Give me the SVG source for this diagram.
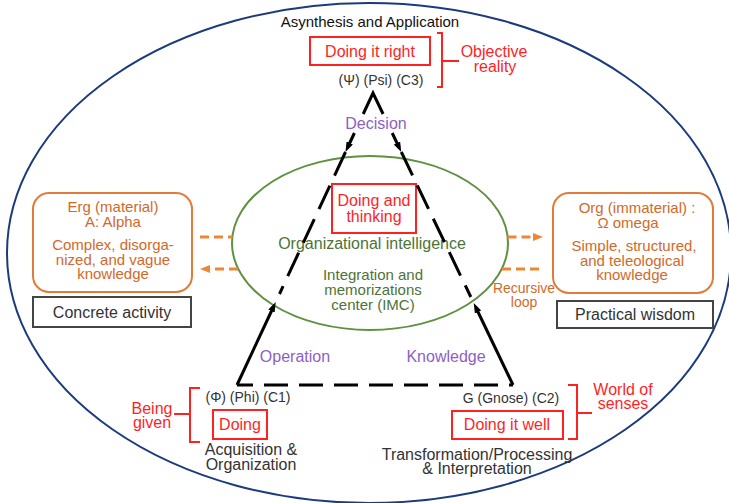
<svg xmlns="http://www.w3.org/2000/svg" width="729" height="503" viewBox="0 0 729 503">
<style>
text{font-family:"Liberation Sans",Arial,Helvetica,sans-serif;text-anchor:middle;font-size:16px}
.k{fill:#111}
.g{fill:#333}
.r{fill:#ff1f1f}
.o{fill:#d2692a}
.gr{fill:#4d7337}
.p{fill:#8d5fc4}
.s14{font-size:14px}
.s15{font-size:15px}
.rbox{fill:#fff;stroke:#ff2020;stroke-width:2}
.brk{fill:none;stroke:#ff2020;stroke-width:2}
.obox{fill:#fff;stroke:#e07b39;stroke-width:2}
.gbox{fill:#fff;stroke:#444;stroke-width:2}
.tri{fill:none;stroke:#000;stroke-width:3}
.tdash{stroke-dasharray:26 11}
.odash{fill:none;stroke:#f08633;stroke-width:3;stroke-dasharray:9 5}
</style>
<defs>
  <marker id="ah" viewBox="0 0 10 7" refX="5" refY="3.5" markerWidth="10" markerHeight="7" markerUnits="userSpaceOnUse" orient="auto">
    <path d="M0,0 L10,3.5 L0,7 z" fill="#000"/>
  </marker>
  <marker id="ao" viewBox="0 0 10 8" refX="5" refY="4" markerWidth="10" markerHeight="8" markerUnits="userSpaceOnUse" orient="auto">
    <path d="M0,0 L10,4 L0,8 z" fill="#f08633"/>
  </marker>
</defs>

<!-- outer frame -->
<g id="frame">
  <ellipse cx="369" cy="253" rx="362" ry="250" fill="none" stroke="#1c3b7d" stroke-width="2"/>
  <text class="k s15" x="370" y="27">Asynthesis and Application</text>
</g>

<!-- central integration centre -->
<g id="imc">
  <ellipse cx="370" cy="243" rx="138" ry="87" fill="none" stroke="#5f9140" stroke-width="2"/>
  <rect class="rbox" x="332" y="184" width="84" height="49"/>
  <text class="r" x="374" y="206">Doing and</text>
  <text class="r" x="374" y="222">thinking</text>
  <text class="gr" x="372" y="249">Organizational intelligence</text>
  <text class="gr s15" x="373" y="280">Integration and</text>
  <text class="gr s15" x="373" y="295">memorizations</text>
  <text class="gr s15" x="373" y="310">center (IMC)</text>
</g>

<!-- connectors -->
<g id="connectors">
  <path class="tri" d="M363.2,114 L373,93 L383.1,114" stroke-linejoin="miter"/>
  <path class="tri" d="M354.4,133 L347.6,147.5" marker-end="url(#ah)"/>
  <path class="tri tdash" d="M345.5,152 L279.5,294"/>
  <path class="tri" d="M392.2,133 L399.1,147.5" marker-end="url(#ah)"/>
  <path class="tri tdash" d="M401.3,152 L470.8,297"/>
  <path class="tri" d="M237,385 L273.6,306.5" marker-end="url(#ah)"/>
  <path class="tri" d="M513,385 L475.9,307.5" marker-end="url(#ah)"/>
  <path class="tri" d="M237,385 H513" stroke-dasharray="24 11" stroke-dashoffset="8"/>
  <text class="p" x="376" y="129">Decision</text>
  <text class="p" x="295" y="362">Operation</text>
  <text class="p" x="446" y="362">Knowledge</text>

  <path class="odash" d="M200,237 H232.5"/>
  <path class="odash" d="M238,269 H205" marker-end="url(#ao)"/>
  <path class="odash" d="M507.5,237 H538" marker-end="url(#ao)"/>
  <path class="odash" d="M502,269 H542"/>
  <text class="o s14" x="524" y="293">Recursive</text>
  <text class="o s14" x="524" y="307">loop</text>
</g>

<!-- C3 : Psi -->
<g id="psi">
  <rect class="rbox" x="310" y="37" width="120" height="28"/>
  <text class="r" x="370" y="57">Doing it right</text>
  <text class="g s14" x="381" y="85">(Ψ) (Psi) (C3)</text>
  <path class="brk" d="M437,33 H442 V87 H437 M442,61 H459"/>
  <text class="r" x="494" y="57">Objective</text>
  <text class="r" x="495" y="72">reality</text>
</g>

<!-- C1 : Phi -->
<g id="phi">
  <text class="g s14" x="248" y="402">(Φ) (Phi) (C1)</text>
  <rect class="rbox" x="213" y="410" width="54" height="29"/>
  <text class="r" x="240" y="430">Doing</text>
  <path class="brk" d="M200,388 H190 V442 H200 M190,414 H174"/>
  <text class="r" x="152" y="414">Being</text>
  <text class="r" x="152" y="428">given</text>
  <text class="g" x="251" y="455">Acquisition &amp;</text>
  <text class="g" x="251" y="470">Organization</text>
</g>

<!-- C2 : Gnose -->
<g id="gnose">
  <text class="g s14" x="511" y="403">G (Gnose) (C2)</text>
  <rect class="rbox" x="452" y="411" width="111" height="28"/>
  <text class="r" x="507" y="430">Doing it well</text>
  <path class="brk" d="M568,385 H577 V439 H568 M577,413 H592"/>
  <text class="r" x="623" y="395">World of</text>
  <text class="r" x="623" y="409">senses</text>
  <text class="g" x="477" y="460">Transformation/Processing</text>
  <text class="g" x="477" y="474">&amp; Interpretation</text>
</g>

<!-- Erg : material -->
<g id="erg">
  <rect class="obox" x="33" y="193" width="159" height="99" rx="16"/>
  <text class="o s15" x="113" y="212">Erg (material)</text>
  <text class="o s15" x="113" y="227">A: Alpha</text>
  <text class="o s15" x="113" y="250">Complex, disorga-</text>
  <text class="o s15" x="113" y="264.5">nized, and vague</text>
  <text class="o s15" x="113" y="279">knowledge</text>
  <rect class="gbox" x="33" y="297" width="158" height="30"/>
  <text class="g" x="112" y="318">Concrete activity</text>
</g>

<!-- Org : immaterial -->
<g id="org">
  <rect class="obox" x="553" y="193" width="160" height="100" rx="16"/>
  <text class="o s15" x="637" y="213">Org (immaterial) :</text>
  <text class="o s15" x="628" y="228">Ω omega</text>
  <text class="o s15" x="634" y="251">Simple, structured,</text>
  <text class="o s15" x="632" y="265.5">and teleological</text>
  <text class="o s15" x="632" y="280">knowledge</text>
  <rect class="gbox" x="557" y="301" width="156" height="27"/>
  <text class="g" x="635" y="320">Practical wisdom</text>
</g>
</svg>
